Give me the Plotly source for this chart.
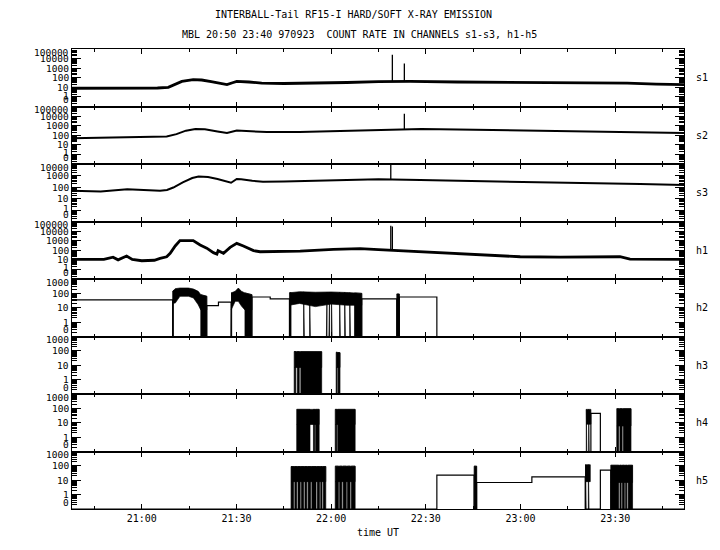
import numpy as np
import pandas as pd
import plotly.graph_objects as go
from plotly.subplots import make_subplots

# ---------------- data (time in minutes after 21:00 UT, values in counts) ----------------
BASE_TIME = "1997-09-23 21:00:00"
X_RANGE = [-22.1, 171.8]

PANEL_NAMES = ["s1", "s2", "s3", "h1", "h2", "h3", "h4", "h5"]
PANEL_TOP_DECADE = [5, 5, 4, 5, 3, 3, 3, 3]

S1_T = [-22.1, -15, -5, 0, 5, 8.4, 10.5, 12.7, 16.3, 19, 22, 25, 27, 29, 30.1, 34, 38, 45, 55, 65, 75,
        85, 100, 110, 120, 130, 140, 153.8, 163, 171.8]
S1_V = [8, 8, 8.5, 8, 8.5, 10, 22, 42, 63, 58, 40, 25, 19, 32, 42, 36, 28, 25, 27, 32, 40,
        42, 36, 34, 33, 33, 32, 28, 22, 19]
S1_SPIKE_T = [79.4, 83.2]
S1_SPIKE_V = [25000, 3000]

S2_T = [-22.1, -10, 0, 7.9, 11, 14, 17, 20, 24, 27, 30.1, 33, 39.6, 50, 60, 69, 75, 83, 88.7, 100,
        119.9, 143, 164, 171.8]
S2_V = [50, 60, 62, 76, 130, 300, 450, 420, 250, 175, 316, 280, 215, 220, 260, 316, 380, 400, 450, 400,
        316, 250, 175, 170]
S2_SPIKE_T = [83.2]
S2_SPIKE_V = [18000]

S3_T = [-22.1, -13, -4.6, 5.8, 8, 10, 13, 16, 18, 21, 24, 27, 28.3, 30.1, 31.5, 35, 38.4, 45, 55, 69.2,
        75, 88.2, 107.2, 126.2, 145.2, 157.9, 171.8]
S3_V = [48, 40, 63, 48, 55, 90, 250, 600, 800, 750, 500, 300, 235, 500, 480, 350, 290, 300, 350, 470,
        480, 400, 330, 270, 235, 180, 150]
S3_SPIKE_T = [78.9]
S3_SPIKE_V = [10000]

H1_T = [-22.1, -12, -9.1, -7.5, -4.8, -3, 0, 4, 5.8, 7.9, 9, 10.6, 12.1, 16.3, 18.5, 20.6, 22.7, 23.8,
        24.2, 25.9, 28, 30.1, 32.2, 35.4, 37.5, 50.2, 60.7, 69.2, 75, 82, 88, 94.5, 107.2, 119.9, 132.6,
        151.5, 154.7, 171.8]
H1_V = [11, 11, 19, 10, 25, 11, 8, 9, 14, 21, 48, 280, 1000, 1000, 350, 165, 56, 40,
        91, 48, 200, 525, 280, 91, 70, 83, 126, 145, 115, 90, 70, 56, 35, 21, 19,
        21, 12, 11]
H1_SPIKE_T = [78.9, 79.4]
H1_SPIKE_V = [35000, 30000]

# hard channels: step baseline, burst blocks (time / top / floor profiles) and deep dropouts to 0
H2_BASE_T = [-22.1, 9.8, 20.6, 24.3, 28.3, 34.9, 40.7, 46.8, 69.7, 80.8, 81.6, 93.5, 171.8]
H2_BASE_V = [35, 0, 14, 25, 0, 56, 41, 0, 41, 0, 56, 0, 0]
H2_BURST_T = [[9.8, 10.6, 12.1, 14.8, 16.4, 17.9, 18.7, 20.6],
              [28.3, 29.6, 30.6, 31.6, 32.7, 34.9],
              [46.8, 50.0, 55.0, 60.0, 65.0, 69.7],
              [80.8, 81.6]]
H2_BURST_TOP = [[138, 213, 235, 235, 200, 138, 81, 63],
                [107, 138, 235, 138, 107, 81],
                [110, 130, 120, 125, 115, 100],
                [90, 90]]
H2_BURST_FLOOR = [[21, 21, 63, 63, 48, 16, 7, 7],
                  [7, 28, 28, 13, 7, 7],
                  [15, 20, 12, 18, 15, 15],
                  [0, 0]]
H2_DEEP = [[9.8, 10.05], [18.7, 20.6], [28.3, 28.5], [32.7, 34.9], [46.8, 47.3], [51.3, 51.5],
           [53.2, 53.4], [58.5, 58.7], [59.3, 59.5], [60.1, 60.3], [62.7, 62.9], [64.3, 64.5],
           [65.9, 66.1], [67.4, 69.7], [80.8, 81.6]]

H3_BASE_T = [-22.1, 171.8]
H3_BASE_V = [0, 0]
H3_BURST_T = [[48.3, 52.5, 57.0], [61.6, 62.8]]
H3_BURST_TOP = [[90, 85, 88], [80, 75]]
H3_BURST_FLOOR = [[7, 7, 7], [7, 7]]
H3_DEEP = [[48.3, 48.8], [49.3, 49.9], [50.4, 57.0], [61.6, 61.9], [62.2, 62.8]]

H4_BASE_T = [-22.1, 142.3, 145.3, 171.8]
H4_BASE_V = [0, 45, 0, 0]
H4_BURST_T = [[49.1, 56.2], [61.3, 67.6], [140.8, 142.3], [150.5, 155.0]]
H4_BURST_TOP = [[85, 85], [85, 85], [85, 85], [95, 95]]
H4_BURST_FLOOR = [[7.6, 7.6], [7.6, 7.6], [8, 8], [6, 6]]
H4_DEEP = [[49.1, 53.3], [54.4, 54.8], [55.1, 56.2], [61.3, 61.8], [62.1, 67.6], [140.85, 141.0],
           [141.6, 141.75], [150.5, 151.1], [151.5, 152.2], [152.6, 155.0]]

H5_BASE_T = [-22.1, 93.5, 105.3, 106.1, 123.6, 140.5, 145.3, 148.6, 171.8]
H5_BASE_V = [0, 23, 0, 7, 17, 0, 51, 0, 0]
H5_BURST_T = [[47.3, 58.3], [61.3, 67.6], [105.3, 106.1], [140.5, 142.1], [148.6, 155.5]]
H5_BURST_TOP = [[90, 90], [95, 95], [95, 95], [120, 120], [110, 110]]
H5_BURST_FLOOR = [[8, 8], [8, 8], [0, 0], [8, 8], [7, 7]]
H5_DEEP = [[47.3, 48.1], [48.5, 49.1], [49.5, 50.2], [50.6, 51.3], [51.7, 52.3], [52.7, 53.5],
           [53.9, 55.2], [55.6, 56.3], [56.7, 57.1], [57.5, 58.3], [61.3, 62.3], [62.7, 63.4],
           [63.8, 64.8], [65.2, 66.0], [66.4, 67.6], [105.3, 106.1], [140.6, 140.8], [141.5, 141.7],
           [148.6, 151.1], [151.5, 151.9], [152.3, 152.9], [153.3, 153.7], [154.1, 155.5]]

TITLE_1 = "INTERBALL-Tail RF15-I HARD/SOFT X-RAY EMISSION"
TITLE_2 = "MBL 20:50 23:40 970923 \u00a0COUNT RATE IN CHANNELS s1-s3, h1-h5"
X_TITLE = "time UT"

# ---------------- helpers ----------------
MONO = "DejaVu Sans Mono"
BASE = pd.Timestamp(BASE_TIME)


def tx(t):
    if t is None:
        return None
    return (BASE + pd.Timedelta(minutes=float(t))).strftime("%Y-%m-%d %H:%M:%S.%f")


def ly(v):
    if v is None:
        return None
    return float(np.log10(v)) if v > 0 else -1.0


fig = make_subplots(rows=8, cols=1, shared_xaxes=True, vertical_spacing=0)

soft = [(S1_T, S1_V, S1_SPIKE_T, S1_SPIKE_V, 2.8),
        (S2_T, S2_V, S2_SPIKE_T, S2_SPIKE_V, 2.0),
        (S3_T, S3_V, S3_SPIKE_T, S3_SPIKE_V, 2.0),
        (H1_T, H1_V, H1_SPIKE_T, H1_SPIKE_V, 2.8)]
for i, (t, v, st, sv, w) in enumerate(soft):
    row = i + 1
    fig.add_trace(go.Scatter(x=[tx(a) for a in t], y=[ly(b) for b in v], mode="lines",
                             line=dict(color="black", width=w), hoverinfo="skip"), row=row, col=1)
    logv = [ly(b) for b in v]
    sx, sy = [], []
    for a, b in zip(st, sv):
        base = float(np.interp(a, t, logv))
        sx += [tx(a), tx(a), None]
        sy += [base, ly(b), None]
    fig.add_trace(go.Scatter(x=sx, y=sy, mode="lines", line=dict(color="black", width=1.3),
                             hoverinfo="skip"), row=row, col=1)

hard = [(H2_BASE_T, H2_BASE_V, H2_BURST_T, H2_BURST_TOP, H2_BURST_FLOOR, H2_DEEP),
        (H3_BASE_T, H3_BASE_V, H3_BURST_T, H3_BURST_TOP, H3_BURST_FLOOR, H3_DEEP),
        (H4_BASE_T, H4_BASE_V, H4_BURST_T, H4_BURST_TOP, H4_BURST_FLOOR, H4_DEEP),
        (H5_BASE_T, H5_BASE_V, H5_BURST_T, H5_BURST_TOP, H5_BURST_FLOOR, H5_DEEP)]
for i, (bt, bv, burst_t, burst_top, burst_floor, deep) in enumerate(hard):
    row = 5 + i
    fig.add_trace(go.Scatter(x=[tx(a) for a in bt], y=[ly(b) for b in bv], mode="lines",
                             line=dict(color="black", width=1.2, shape="hv"), hoverinfo="skip"),
                  row=row, col=1)
    xs, ys = [], []
    all_t, all_top = [], []
    for t, top, fl in zip(burst_t, burst_top, burst_floor):
        xs += [tx(a) for a in t] + [tx(a) for a in t[::-1]] + [None]
        ys += [ly(b) for b in top] + [ly(b) for b in fl[::-1]] + [None]
        all_t += t
        all_top += top
    for a, b in deep:
        ta = float(np.interp(a, all_t, all_top))
        tb = float(np.interp(b, all_t, all_top))
        xs += [tx(a), tx(a), tx(b), tx(b), None]
        ys += [-1.0, ly(ta), ly(tb), -1.0, None]
    fig.add_trace(go.Scatter(x=xs, y=ys, mode="lines", fill="toself", fillcolor="black",
                             line=dict(color="black", width=0.7), hoverinfo="skip"),
                  row=row, col=1)

# ---------------- axes ----------------
LABEL_SIZE = 9.5
annotations = []
for i, (name, top) in enumerate(zip(PANEL_NAMES, PANEL_TOP_DECADE)):
    row = i + 1
    major = list(range(-1, top + 1))
    minor = [float(np.log10(k * 10.0 ** d)) for d in range(-1, top) for k in range(2, 10)]
    fig.update_yaxes(row=row, col=1, range=[-1, top], tickmode="array", tickvals=major,
                     showticklabels=False, ticks="inside", ticklen=9, tickwidth=1, tickcolor="black",
                     mirror="ticks", showline=True, linecolor="black", linewidth=1,
                     showgrid=False, zeroline=False, fixedrange=True,
                     minor=dict(tickmode="array", tickvals=minor, ticks="inside", ticklen=5,
                                tickwidth=1, tickcolor="black", showgrid=False))
    yref = "y" if row == 1 else f"y{row}"
    for d in major:
        label = "0" if d == -1 else str(10 ** d)
        if d == top:
            shift = -3
        elif d == -1:
            shift = 7
        elif d == 0 and top >= 4:
            shift = 1.5
        else:
            shift = 0
        annotations.append(dict(x=0, xref="paper", y=d, yref=yref, text=label, showarrow=False,
                                xanchor="right", yanchor="middle", xshift=-1, yshift=shift,
                                font=dict(family=MONO, size=LABEL_SIZE, color="black")))
    annotations.append(dict(x=1, xref="paper", y=0.5, yref=f"{yref} domain", text=name,
                            showarrow=False, xanchor="left", yanchor="middle", xshift=10,
                            font=dict(family=MONO, size=10, color="black")))

fig.update_xaxes(type="date", range=[tx(X_RANGE[0]), tx(X_RANGE[1])], tickmode="linear",
                 tick0=tx(0), dtick=30 * 60 * 1000, tickformat="%H:%M", ticks="inside", ticklen=5,
                 tickwidth=1, tickcolor="black", mirror="ticks", showline=True, linecolor="black",
                 linewidth=1, showgrid=False, zeroline=False, fixedrange=True,
                 tickfont=dict(family=MONO, size=10, color="black"),
                 minor=dict(tick0=tx(0), dtick=15 * 60 * 1000, ticks="inside", ticklen=3,
                            tickwidth=1, tickcolor="black", showgrid=False))
fig.update_xaxes(row=8, col=1, title=dict(text=X_TITLE, standoff=5,
                                          font=dict(family=MONO, size=10, color="black")))

annotations.append(dict(x=0.4598, xref="paper", y=1.0746, yref="paper", text=TITLE_1, showarrow=False,
                        xanchor="center", yanchor="middle", font=dict(family=MONO, size=10, color="black")))
annotations.append(dict(x=0.469, xref="paper", y=1.0311, yref="paper", text=TITLE_2, showarrow=False,
                        xanchor="center", yanchor="middle", font=dict(family=MONO, size=10, color="black")))

# the page body adds an 8 px margin, so the figure is 8 px smaller and margins are trimmed to match
fig.update_layout(width=712, height=542, margin=dict(l=64, r=36, t=41, b=41, pad=0),
                  paper_bgcolor="white", plot_bgcolor="white", showlegend=False,
                  annotations=annotations, font=dict(family=MONO, size=10, color="black"))

fig.write_html("out.html")
